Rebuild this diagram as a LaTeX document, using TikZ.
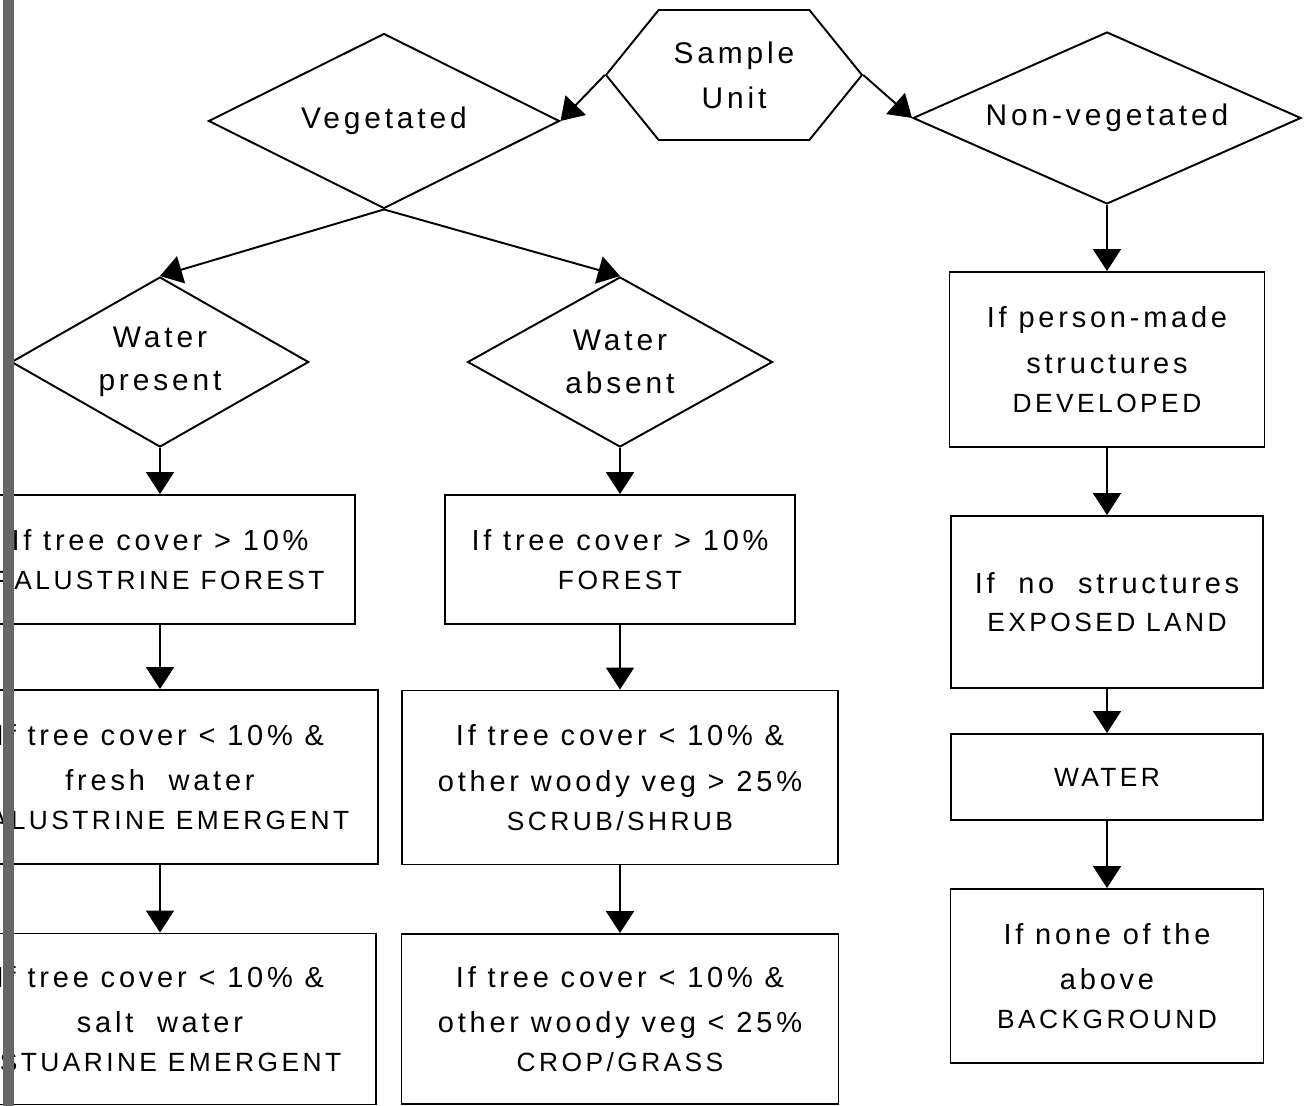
\documentclass[tikz,border=0pt]{standalone}
\usepackage{fontspec}
\setmainfont{Liberation Sans}[LetterSpace=13]
\usetikzlibrary{shapes.geometric, shapes.symbols, arrows.meta}
\tikzstyle{hexa} = [signal, signal to=west and east, signal pointer angle=102, draw, line width=1.1pt, inner xsep=0.3cm, inner ysep=0pt, align=center, font=\fontsize{17}{25.5}\selectfont]
\tikzstyle{choice} = [diamond, aspect=2.5, draw, line width=1.1pt, inner sep=0pt, align=center, font=\fontsize{17}{24.5}\selectfont]
\tikzstyle{rule} = [rectangle, draw, line width=1.1pt, align=center, font=\fontsize{16.5}{26}\selectfont]
\tikzstyle{arrow} = [line width=1.1pt,-{Triangle[length=4.4mm,width=5.6mm]}]
\newcommand{\cls}[1]{{\fontsize{15}{26}\selectfont #1}}

\begin{document}
\begin{tikzpicture}
            \useasboundingbox (0,0) rectangle (26.16,-22.12);
            \clip (0,0) rectangle (26.16,-22.12);

            \node [hexa, minimum height=2.6cm] at (14.68,-1.5) (unit) {Sample\\Unit};
            \node [choice, minimum width=7.02cm, minimum height=3.5cm] at (7.68,-2.42) (veg) {Vegetated};
            \node [choice, minimum width=7.76cm, minimum height=3.44cm] at (22.14,-2.36) (nonveg) {Non-vegetated};
            \node [choice, minimum width=5.9cm, minimum height=3.4cm] at (3.2,-7.24) (wet) {Water\\present};
            \node [choice, minimum width=6.1cm, minimum height=3.4cm] at (12.4,-7.24) (dry) {Water\\absent};

            \node [rule, minimum width=7.8cm, minimum height=2.58cm] at (3.2,-11.19) (palforest) {If tree cover > 10\%\\[-4pt]\cls{PALUSTRINE FOREST}};
            \node [rule, minimum width=8.72cm, minimum height=3.48cm] at (3.2,-15.54) (palemerg) {If tree cover < 10\% \&\\fresh\ \ water\\[-4pt]\cls{PALUSTRINE EMERGENT}};
            \node [rule, minimum width=8.64cm, minimum height=3.42cm] at (3.2,-20.38) (estemerg) {If tree cover < 10\% \&\\salt\ \ water\\[-4pt]\cls{ESTUARINE EMERGENT}};

            \node [rule, minimum width=7cm, minimum height=2.58cm] at (12.4,-11.19) (forest) {If tree cover > 10\%\\[-4pt]\cls{FOREST}};
            \node [rule, minimum width=8.72cm, minimum height=3.48cm] at (12.4,-15.55) (scrub) {If tree cover < 10\% \&\\other woody veg > 25\%\\[-4pt]\cls{SCRUB/SHRUB}};
            \node [rule, minimum width=8.74cm, minimum height=3.4cm] at (12.4,-20.38) (crop) {If tree cover < 10\% \&\\other woody veg < 25\%\\[-4pt]\cls{CROP/GRASS}};

            \node [rule, minimum width=6.3cm, minimum height=3.5cm] at (22.14,-7.19) (developed) {If person-made\\structures\\[-4pt]\cls{DEVELOPED}};
            \node [rule, minimum width=6.24cm, minimum height=3.44cm] at (22.14,-12.04) (exposed) {If\ \ no\ \ structures\\[-4pt]\cls{EXPOSED LAND}};
            \node [rule, minimum width=6.24cm, minimum height=1.72cm] at (22.14,-15.54) (water) {\cls{WATER}};
            \node [rule, minimum width=6.26cm, minimum height=3.48cm] at (22.14,-19.52) (background) {If none of the\\above\\[-4pt]\cls{BACKGROUND}};

            \draw [arrow] (unit.west) -- (veg.east);
            \draw [arrow] (unit.east) -- (nonveg.west);
            \draw [arrow] (veg.south) -- (wet.north);
            \draw [arrow] (veg.south) -- (dry.north);
            \draw [arrow] (wet) -- (palforest);
            \draw [arrow] (palforest) -- (palemerg);
            \draw [arrow] (palemerg) -- (estemerg);
            \draw [arrow] (dry) -- (forest);
            \draw [arrow] (forest) -- (scrub);
            \draw [arrow] (scrub) -- (crop);
            \draw [arrow] (nonveg) -- (developed);
            \draw [arrow] (developed) -- (exposed);
            \draw [arrow] (exposed) -- (water);
            \draw [arrow] (water) -- (background);

            \fill [black!60] (0.06,0) rectangle (0.27,-22.12);
            \end{tikzpicture}
\end{document}
